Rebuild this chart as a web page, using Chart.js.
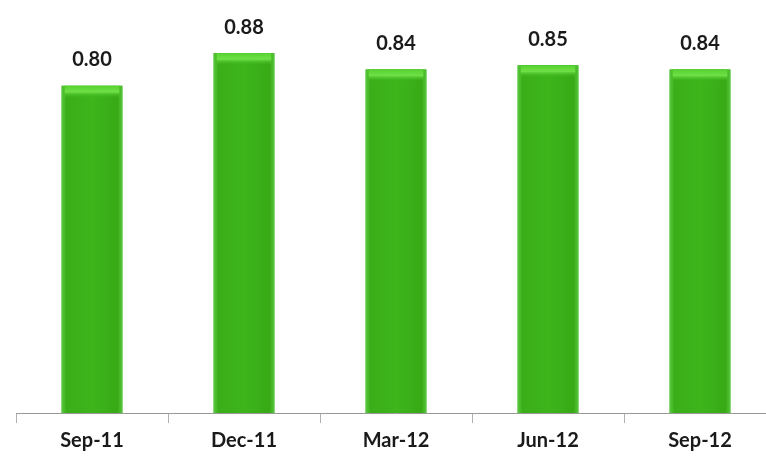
<!DOCTYPE html>
<html>
<head>
<meta charset="utf-8">
<script src="https://cdn.jsdelivr.net/npm/chart.js@4.4.1/dist/chart.umd.min.js"></script>
<style>
  html, body { margin: 0; padding: 0; background: #fff; overflow: hidden; }
  #wrap { width: 782px; height: 459px; position: relative; }
</style>
</head>
<body>
<div id="wrap"><canvas id="ratioChart"></canvas></div>
<script>
// chart data
var quarters = ['Sep-11', 'Dec-11', 'Mar-12', 'Jun-12', 'Sep-12'];
var ratioValues = [0.80, 0.88, 0.84, 0.85, 0.84];
var yRange = [0, 1.0];

// shade each bar like the original 3d-ish green columns + print the value on top
var barLook = {
    id: 'barLook',
    afterDatasetsDraw: function (chart) {
        var c = chart.ctx;
        var meta = chart.getDatasetMeta(0);
        meta.data.forEach(function (bar, i) {
            var left = bar.x - bar.width / 2, right = bar.x + bar.width / 2;
            var g = c.createLinearGradient(left, 0, right, 0);
            g.addColorStop(0, '#5cc83e');
            g.addColorStop(0.08, '#3aae18');
            g.addColorStop(0.5, '#3db51b');
            g.addColorStop(0.92, '#37aa16');
            g.addColorStop(1, '#5ac63c');
            c.save();
            c.fillStyle = g;
            c.fillRect(left, bar.y, bar.width, bar.base - bar.y);
            // light band at the top
            var hg = c.createLinearGradient(0, bar.y, 0, bar.y + 12);
            hg.addColorStop(0, '#56d22e');
            hg.addColorStop(0.5, '#6fe048');
            hg.addColorStop(1, 'rgba(61,181,27,0)');
            c.fillStyle = hg;
            c.fillRect(left + 3, bar.y, bar.width - 6, 12);

            c.fillStyle = '#1a1a1a';
            c.font = 'bold 20px Lato';
            c.textAlign = 'center';
            c.textBaseline = 'middle';
            c.fillText(ratioValues[i].toFixed(2), bar.x, bar.y - 26);
            c.restore();
        });
    }
};

new Chart(document.getElementById('ratioChart'), {
    type: 'bar',
    data: {
        labels: quarters,
        datasets: [{
            data: ratioValues,
            backgroundColor: '#3db51b',
            barPercentage: 0.4,
            categoryPercentage: 1.0
        }]
    },
    options: {
        responsive: true,
        maintainAspectRatio: false,
        animation: false,
        layout: { padding: { left: 16, top: 4, right: 6, bottom: 0 } },
        plugins: { legend: { display: false }, tooltip: { enabled: false } },
        scales: {
            x: {
                offset: true,
                grid: { drawOnChartArea: false, drawTicks: true, tickLength: 10, color: '#b0b0b0', offset: true },
                border: { color: '#999999', width: 1 },
                ticks: { color: '#1a1a1a', font: { family: 'Lato', weight: 'bold', size: 20 }, padding: 6 }
            },
            y: {
                display: false,
                min: yRange[0],
                max: yRange[1]
            }
        }
    },
    plugins: [barLook]
});
</script>
</body>
</html>
